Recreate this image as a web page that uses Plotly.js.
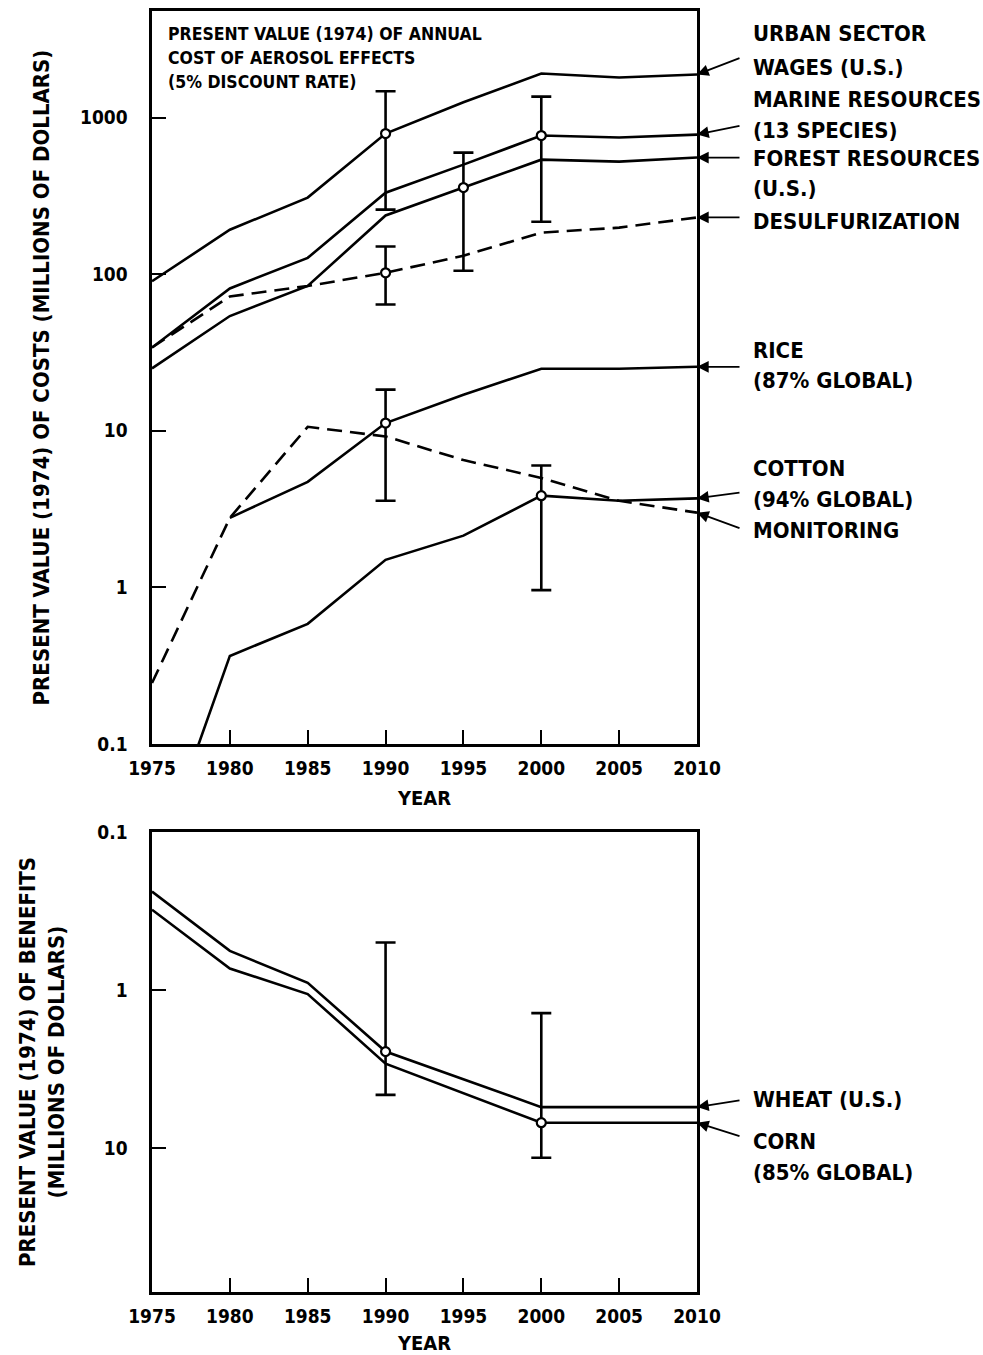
<!DOCTYPE html>
<html>
<head>
<meta charset="utf-8">
<script src="https://cdn.plot.ly/plotly-3.0.1.min.js"></script>
<style>
html,body{margin:0;padding:0;background:#fff;}
#chart{width:983px;height:1355px;}
</style>
</head>
<body>
<div id="chart"></div>
<script>
// ---------- DATA ----------
const years = [1975, 1980, 1985, 1990, 1995, 2000, 2005, 2010];
const urbanWages   = [90, 192, 308, 790, 1250, 1910, 1800, 1880];
const marineRes    = [34, 81, 127, 331, 500, 767, 745, 778];
const forestRes    = [25, 54, 84, 237, 357, 538, 523, 555];
const desulfur     = [34, 72, 84, 102, 131, 184, 198, 230];
const riceYears    = [1980, 1985, 1990, 1995, 2000, 2005, 2010];
const rice         = [2.78, 4.72, 11.2, 17, 24.9, 24.9, 25.6];
const monitoring   = [0.245, 2.78, 10.6, 9.2, 6.5, 5.0, 3.57, 3.0];
const cotton       = [0.0144, 0.365, 0.585, 1.5, 2.14, 3.85, 3.57, 3.7];

// error bars (costs)
const costErrYears = [1990, 1990, 1995, 2000, 1990, 2000];
const costErrMid   = [790, 102, 357, 767, 11.2, 3.85];
const costErrLow   = [258, 64, 105, 216, 3.57, 0.96];
const costErrHigh  = [1470, 150, 597, 1360, 18.3, 6.0];

// benefits
const benYears = [1975, 1980, 1985, 1990, 2000, 2010];
const wheat    = [0.238, 0.565, 0.90, 2.45, 5.5, 5.5];
const corn     = [0.31, 0.73, 1.06, 2.92, 6.9, 6.9];
const benErrYears = [1990, 2000];
const benErrMid   = [2.45, 6.9];
const benErrLow   = [0.50, 1.4];
const benErrHigh  = [4.6, 11.5];

const xTicks = [1975, 1980, 1985, 1990, 1995, 2000, 2005, 2010];
const costTickVals = [0.1, 1, 10, 100, 1000];
const costTickText = ['0.1', '1', '10', '100', '1000'];
const benTickVals = [0.1, 1, 10];
const benTickText = ['0.1', '1', '10'];

const boxText = ['PRESENT VALUE (1974) OF ANNUAL', 'COST OF AEROSOL EFFECTS', '(5% DISCOUNT RATE)'];
const costLabels = ['URBAN SECTOR', 'WAGES (U.S.)', 'MARINE RESOURCES', '(13 SPECIES)', 'FOREST RESOURCES', '(U.S.)',
                    'DESULFURIZATION', 'RICE', '(87% GLOBAL)', 'COTTON', '(94% GLOBAL)', 'MONITORING'];
const benLabels = ['WHEAT (U.S.)', 'CORN', '(85% GLOBAL)'];

// ---------- STYLE / LAYOUT ----------
const W = 983, H = 1355;
const FONT = 'DejaVu Sans Condensed, Liberation Sans Narrow, DejaVu Sans, sans-serif';
const px = v => v / W;
const py = v => 1 - v / H;
const LW = 2.6;

function line(x, y, xa, ya, dash) {
  return {x: x, y: y, xaxis: xa, yaxis: ya, type: 'scatter', mode: 'lines',
          line: {color: '#000', width: LW, dash: dash || 'solid'}, hoverinfo: 'skip', showlegend: false};
}
function errs(x, mid, lo, hi, xa, ya) {
  return {x: x, y: mid, xaxis: xa, yaxis: ya, type: 'scatter', mode: 'markers',
          marker: {symbol: 'circle', size: 9, color: '#fff', line: {color: '#000', width: 2.2}},
          error_y: {type: 'data', symmetric: false,
                    array: mid.map((m, i) => hi[i] - m),
                    arrayminus: mid.map((m, i) => m - lo[i]),
                    color: '#000', thickness: 2.6, width: 10},
          hoverinfo: 'skip', showlegend: false};
}
const DASH = '15px,8px';
const traces = [
  line(years, urbanWages, 'x', 'y'),
  line(years, marineRes, 'x', 'y'),
  line(years, forestRes, 'x', 'y'),
  line(years, desulfur, 'x', 'y', DASH),
  line(riceYears, rice, 'x', 'y'),
  line(years, monitoring, 'x', 'y', DASH),
  line(years, cotton, 'x', 'y'),
  errs(costErrYears, costErrMid, costErrLow, costErrHigh, 'x', 'y'),
  line(benYears, wheat, 'x2', 'y2'),
  line(benYears, corn, 'x2', 'y2'),
  errs(benErrYears, benErrMid, benErrLow, benErrHigh, 'x2', 'y2')
];

const tickFont = {family: FONT, size: 19, color: '#000', weight: 'bold'};
const titleFont = {family: FONT, size: 20, color: '#000', weight: 'bold'};
const yTitleFont = {family: FONT, size: 22, color: '#000', weight: 'bold'};
function xAxis(anchor) {
  return {domain: [px(152), px(697)], anchor: anchor, range: [1975, 2010], tickvals: xTicks,
          ticks: 'inside', ticklen: 14, tickwidth: 2, tickcolor: '#000',
          showline: true, linewidth: LW, linecolor: '#000', mirror: true, showgrid: false, zeroline: false,
          tickfont: tickFont, ticklabelstandoff: 6,
          title: {text: 'YEAR', font: titleFont, standoff: 13}};
}
const layout = {
  width: W, height: H, margin: {l: 0, r: 0, t: 0, b: 0},
  paper_bgcolor: '#fff', plot_bgcolor: '#fff', showlegend: false,
  xaxis: xAxis('y'),
  yaxis: {domain: [py(744), py(11)], anchor: 'x', type: 'log', range: [-1, 3.68],
          tickvals: costTickVals, ticktext: costTickText,
          ticks: 'inside', ticklen: 14, tickwidth: 2, tickcolor: '#000',
          showline: true, linewidth: LW, linecolor: '#000', mirror: true, showgrid: false, zeroline: false,
          tickfont: tickFont, ticklabelstandoff: 18,
          title: {text: 'PRESENT VALUE (1974) OF COSTS (MILLIONS OF DOLLARS)', font: yTitleFont, standoff: 25}},
  xaxis2: xAxis('y2'),
  yaxis2: {domain: [py(1292), py(832)], anchor: 'x2', type: 'log', range: [1.91, -1],
          tickvals: benTickVals, ticktext: benTickText,
          ticks: 'inside', ticklen: 14, tickwidth: 2, tickcolor: '#000',
          showline: true, linewidth: LW, linecolor: '#000', mirror: true, showgrid: false, zeroline: false,
          tickfont: tickFont, ticklabelstandoff: 18,
          title: {text: 'PRESENT VALUE (1974) OF BENEFITS<br>(MILLIONS OF DOLLARS)', font: yTitleFont, standoff: 27}},
  annotations: []
};

// box text (top-left inside plot)
const boxY = [34, 58, 82];
boxText.forEach((t, i) => layout.annotations.push({
  xref: 'paper', yref: 'paper', x: px(166), y: py(boxY[i]), xanchor: 'left', yanchor: 'middle',
  text: t, showarrow: false, font: {family: FONT, size: 17.5, color: '#000', weight: 'bold'}}));

// right-hand labels (costs)
const costLabelY = [34, 67, 99, 130, 159, 188, 221, 350, 381, 468, 499, 530];
costLabels.forEach((t, i) => layout.annotations.push({
  xref: 'paper', yref: 'paper', x: px(751), y: py(costLabelY[i]), xanchor: 'left', yanchor: 'middle',
  text: t, showarrow: false, font: {family: FONT, size: 22, color: '#000', weight: 'bold'}}));
const benLabelY = [1099, 1141, 1172];
benLabels.forEach((t, i) => layout.annotations.push({
  xref: 'paper', yref: 'paper', x: px(751), y: py(benLabelY[i]), xanchor: 'left', yanchor: 'middle',
  text: t, showarrow: false, font: {family: FONT, size: 22, color: '#000', weight: 'bold'}}));

// arrows pointing to line ends
function arrow(xr, yr, yv, ax, ay) {
  return {xref: xr, yref: yr, x: 2010, y: Math.log10(yv), text: '', showarrow: true,
          arrowhead: 2, arrowsize: 1.3, arrowwidth: 1.8, arrowcolor: '#000', ax: ax, ay: ay, standoff: 0};
}
const last = a => a[a.length - 1];
layout.annotations.push(
  arrow('x', 'y', last(urbanWages), 44, -17),
  arrow('x', 'y', last(marineRes), 44, -9),
  arrow('x', 'y', last(forestRes), 44, 0),
  arrow('x', 'y', last(desulfur), 44, 0),
  arrow('x', 'y', last(rice), 44, 0),
  arrow('x', 'y', last(cotton), 44, -6),
  arrow('x', 'y', last(monitoring), 44, 16),
  arrow('x2', 'y2', last(wheat), 44, -7),
  arrow('x2', 'y2', last(corn), 44, 14)
);

Plotly.newPlot('chart', traces, layout, {displayModeBar: false, staticPlot: true});
</script>
</body>
</html>
